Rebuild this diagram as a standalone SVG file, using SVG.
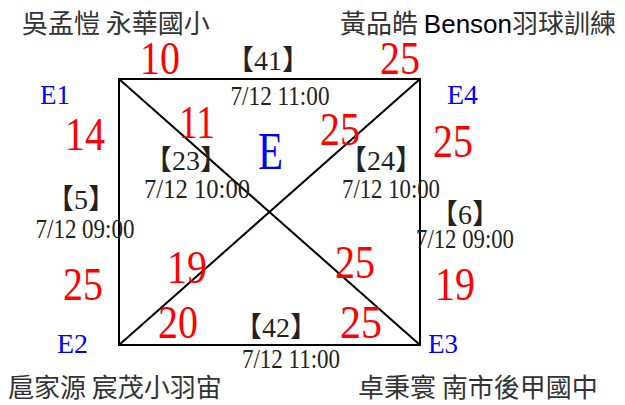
<svg xmlns="http://www.w3.org/2000/svg" width="625" height="405" viewBox="0 0 625 405">
<style>
.ln{stroke:#000;stroke-width:2;fill:none}
.num{font-family:"Liberation Serif","Times New Roman",serif;font-size:46px;fill:#f00;text-anchor:middle}
.lbl{font-family:"Liberation Serif","Times New Roman",serif;font-size:28px;fill:#00f}
.big{font-size:52px}
.mid{font-family:"Liberation Serif","Noto Sans CJK TC",serif;font-size:28px;fill:#222;text-anchor:middle}
.date{font-family:"Liberation Serif","Times New Roman",serif;font-size:28px;fill:#222;text-anchor:middle}
.name{font-family:"Noto Sans CJK TC","Noto Sans CJK SC",sans-serif;font-size:26px;fill:#333}
.en{font-family:"Liberation Sans",Arial,sans-serif;fill:#000}
</style>
<rect width="625" height="405" fill="#fff"/>
<g id="connectors">
<rect class="ln" x="119" y="79" width="301" height="266"/>
<line class="ln" x1="119" y1="79" x2="420" y2="345"/>
<line class="ln" x1="420" y1="79" x2="119" y2="345"/>
</g>
<g id="E1">
<text class="lbl" x="40" y="104" textLength="30" lengthAdjust="spacingAndGlyphs">E1</text>
<text class="name" x="22" y="33">吳孟愷 永華國小</text>
</g>
<g id="E4">
<text class="lbl" x="447" y="104" textLength="31" lengthAdjust="spacingAndGlyphs">E4</text>
<text class="name" x="340" y="33">黃品皓 <tspan class="en">Benson</tspan>羽球訓練</text>
</g>
<g id="E2">
<text class="lbl" x="57" y="353" textLength="31" lengthAdjust="spacingAndGlyphs">E2</text>
<text class="name" x="8" y="397">扈家源 宸茂小羽宙</text>
</g>
<g id="E3">
<text class="lbl" x="428" y="353" textLength="30" lengthAdjust="spacingAndGlyphs">E3</text>
<text class="name" x="358" y="397">卓秉寰 南市後甲國中</text>
</g>
<g id="E">
<text class="lbl big" x="258" y="169" textLength="25" lengthAdjust="spacingAndGlyphs">E</text>
</g>
<g id="scores">
<text class="num" x="160" y="74" textLength="40" lengthAdjust="spacingAndGlyphs">10</text>
<text class="num" x="400" y="74" textLength="40" lengthAdjust="spacingAndGlyphs">25</text>
<text class="num" x="85" y="150" textLength="40" lengthAdjust="spacingAndGlyphs">14</text>
<text class="num" x="197" y="138" textLength="36" lengthAdjust="spacingAndGlyphs">11</text>
<text class="num" x="340" y="145" textLength="40" lengthAdjust="spacingAndGlyphs">25</text>
<text class="num" x="453" y="157" textLength="40" lengthAdjust="spacingAndGlyphs">25</text>
<text class="num" x="187" y="283" textLength="40" lengthAdjust="spacingAndGlyphs">19</text>
<text class="num" x="83" y="300" textLength="40" lengthAdjust="spacingAndGlyphs">25</text>
<text class="num" x="178" y="338" textLength="40" lengthAdjust="spacingAndGlyphs">20</text>
<text class="num" x="355" y="278" textLength="40" lengthAdjust="spacingAndGlyphs">25</text>
<text class="num" x="361" y="338" textLength="42" lengthAdjust="spacingAndGlyphs">25</text>
<text class="num" x="455" y="300" textLength="40" lengthAdjust="spacingAndGlyphs">19</text>
</g>
<g id="matches">
<text class="mid" x="268" y="70">【41】</text>
<text class="date" x="280" y="105" textLength="99" lengthAdjust="spacingAndGlyphs">7/12 11:00</text>
<text class="mid" x="186" y="170">【23】</text>
<text class="date" x="197" y="198" textLength="106" lengthAdjust="spacingAndGlyphs">7/12 10:00</text>
<text class="mid" x="81" y="209">【5】</text>
<text class="date" x="85" y="238" textLength="99" lengthAdjust="spacingAndGlyphs">7/12 09:00</text>
<text class="mid" x="381" y="170">【24】</text>
<text class="date" x="391" y="198" textLength="98" lengthAdjust="spacingAndGlyphs">7/12 10:00</text>
<text class="mid" x="465" y="224">【6】</text>
<text class="date" x="465" y="248" textLength="98" lengthAdjust="spacingAndGlyphs">7/12 09:00</text>
<text class="mid" x="276" y="337">【42】</text>
<text class="date" x="291" y="368" textLength="98" lengthAdjust="spacingAndGlyphs">7/12 11:00</text>
</g>
</svg>
